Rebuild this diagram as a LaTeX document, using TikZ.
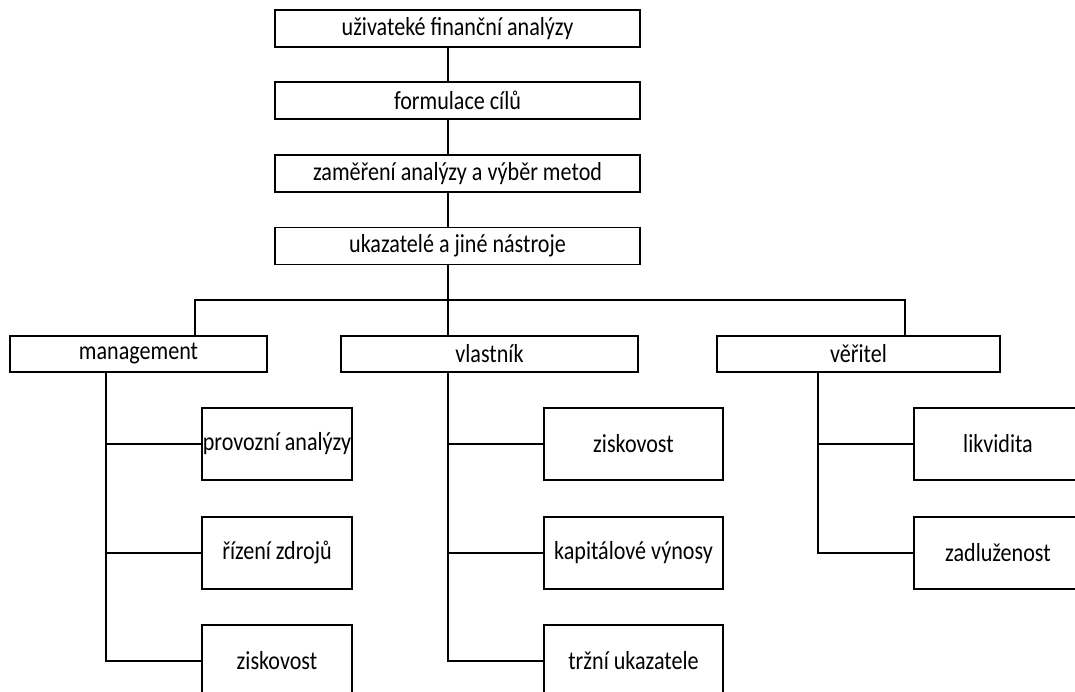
\documentclass[tikz,border=0pt]{standalone}
\usepackage{fontspec}
\setmainfont{Carlito}[FakeStretch=0.85]
\begin{document}
\begin{tikzpicture}[x=1pt,y=-1pt,
  box/.style={draw,line width=1.8pt,rectangle,inner sep=0pt,outer sep=0pt,
    font=\fontsize{26}{30}\selectfont},
  topbox/.style={box,minimum width=365pt,minimum height=37pt},
  catbox/.style={box,minimum height=36pt},
  leafbox/.style={box,minimum height=72pt},
  link/.style={line width=1.8pt}]
\clip (0,0) rectangle (1075,692);
\fill[white] (0,0) rectangle (1075,692);

% analysis chain
\node[topbox] (t1) at (457.5,28.5) {uživateké finanční analýzy};
\node[topbox] (t2) at (457.5,100.5) {formulace cílů};
\node[topbox] (t3) at (457.5,173.5) {zaměření analýzy a výběr metod};
\node[topbox] (t4) at (457.5,246) {ukazatelé a jiné nástroje};

% user groups
\node[catbox,minimum width=257pt] (mg) at (138.5,354) {management};
\node[catbox,minimum width=297pt] (vl) at (489.5,354) {vlastník};
\node[catbox,minimum width=283pt] (ve) at (858.5,354) {věřitel};

% management
\node[leafbox,minimum width=150pt] (m1) at (277,444) {provozní analýzy};
\node[leafbox,minimum width=150pt] (m2) at (277,553) {řízení zdrojů};
\node[leafbox,minimum width=150pt] (m3) at (277,661) {ziskovost};

% owner
\node[leafbox,minimum width=179pt] (v1) at (633.5,444) {ziskovost};
\node[leafbox,minimum width=179pt] (v2) at (633.5,553) {kapitálové výnosy};
\node[leafbox,minimum width=179pt] (v3) at (633.5,661) {tržní ukazatele};

% creditor
\node[leafbox,minimum width=168pt] (c1) at (998,444) {likvidita};
\node[leafbox,minimum width=168pt] (c2) at (998,553) {zadluženost};

% trunk and bus
\coordinate (jm) at (195,300);
\coordinate (jv) at (448,300);
\coordinate (jc) at (905,300);
\draw[link] (t1.south -| jv) -- (t2.north -| jv);
\draw[link] (t2.south -| jv) -- (t3.north -| jv);
\draw[link] (t3.south -| jv) -- (t4.north -| jv);
\draw[link] (t4.south -| jv) -- (jv);
\draw[link] (mg.north -| jm) -- (jm) -- (jc) -- (ve.north -| jc);
\draw[link] (jv) -- (vl.north -| jv);

% branches
\coordinate (mt) at (106,372);
\coordinate (vt) at (448,372);
\coordinate (ct) at (818,372);
\draw[link] (mg.south -| mt) |- (m3.west);
\draw[link] (mt |- m1.west) -- (m1.west);
\draw[link] (mt |- m2.west) -- (m2.west);
\draw[link] (vl.south -| vt) |- (v3.west);
\draw[link] (vt |- v1.west) -- (v1.west);
\draw[link] (vt |- v2.west) -- (v2.west);
\draw[link] (ve.south -| ct) |- (c2.west);
\draw[link] (ct |- c1.west) -- (c1.west);
\end{tikzpicture}
\end{document}
